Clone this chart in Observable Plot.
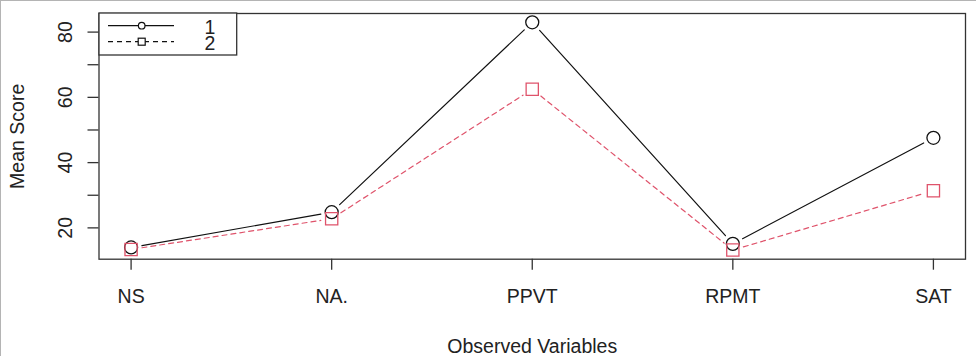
<!DOCTYPE html>
<html>
<head>
<meta charset="utf-8">
<script src="https://cdn.jsdelivr.net/npm/d3@7"></script>
<script src="https://cdn.jsdelivr.net/npm/@observablehq/plot@0.6"></script>
<style>
  html, body { margin: 0; padding: 0; background: #fff; }
  #wrap { position: relative; width: 976px; height: 356px; overflow: hidden; font-family: "Liberation Sans", Arial, sans-serif; }
  #wrap svg { display: block; }
  #edgeTop { position: absolute; left: 0; top: 0; width: 976px; height: 1px; background: #b4b4b4; }
  #edgeLeft { position: absolute; left: 0; top: 0; width: 1px; height: 356px; background: #b4b4b4; }
  #legend { position: absolute; left: 0; top: 0; }
</style>
</head>
<body>
<div id="wrap"></div>
<script>
// ---- data ----
const categories = ["NS", "NA.", "PPVT", "RPMT", "SAT"];
const series1 = [14.0, 24.8, 83.0, 15.1, 47.6];
const series2 = [13.4, 22.8, 62.5, 13.2, 31.4];
const seriesNames = ["1", "2"];
const yTickValues = [20, 30, 40, 50, 60, 70, 80];
const yTickLabels = [20, 40, 60, 80];
const xLabel = "Observed Variables";
const yLabel = "Mean Score";

const red = "#DF536B";
const ink = "#222";
const fontSize = 19.5;

const xIdx = categories.map((c, i) => i + 1);
function segments(vals) {
  const out = [];
  for (let i = 0; i < vals.length - 1; i++) {
    out.push({x1: i + 1, y1: vals[i], x2: i + 2, y2: vals[i + 1]});
  }
  return out;
}
const pts1 = series1.map((v, i) => ({x: i + 1, y: v}));
const pts2 = series2.map((v, i) => ({x: i + 1, y: v}));

const chart = Plot.plot({
  width: 976,
  height: 356,
  marginTop: 13,
  marginRight: 11,
  marginBottom: 97.3,
  marginLeft: 98.5,
  style: {fontFamily: "'Liberation Sans', Arial, sans-serif", background: "#fff", color: ink},
  x: {type: "linear", domain: [0.84, 5.16], axis: null},
  y: {type: "linear", domain: [10.4, 85.7], axis: null},
  marks: [
    // ticks
    Plot.axisX(xIdx, {tickSize: 11, tickFormat: () => "", label: null, stroke: "#333", strokeWidth: 1.3}),
    Plot.axisY(yTickValues, {tickSize: 11, tickFormat: () => "", label: null, stroke: "#333", strokeWidth: 1.3}),
    // tick labels
    Plot.text(categories, {x: (d, i) => i + 1, frameAnchor: "bottom", dy: 43.6, lineAnchor: "bottom", fontSize, fill: ink}),
    Plot.text(yTickLabels, {y: d => d, text: d => String(d), frameAnchor: "left", dx: -27.5, rotate: -90, textAnchor: "middle", lineAnchor: "bottom", fontSize, fill: ink}),
    // axis titles
    Plot.text([xLabel], {frameAnchor: "bottom", dy: 93.5, lineAnchor: "bottom", fontSize, fill: ink}),
    Plot.text([yLabel], {frameAnchor: "left", dx: -75.5, rotate: -90, textAnchor: "middle", lineAnchor: "bottom", fontSize, fill: ink}),
    // series 1
    Plot.arrow(segments(series1), {x1: "x1", y1: "y1", x2: "x2", y2: "y2", inset: 11, headLength: 0, bend: 0, stroke: "#111", strokeWidth: 1.2}),
    Plot.dot(pts1, {x: "x", y: "y", symbol: "circle", r: 6.5, stroke: "#111", fill: "none", strokeWidth: 1.3}),
    // series 2
    Plot.arrow(segments(series2), {x1: "x1", y1: "y1", x2: "x2", y2: "y2", inset: 11, headLength: 0, bend: 0, stroke: red, strokeWidth: 1.2, strokeDasharray: "5,4"}),
    Plot.dot(pts2, {x: "x", y: "y", symbol: "square", r: 6.9, stroke: red, fill: "none", strokeWidth: 1.3}),
    Plot.frame({stroke: "#333", strokeWidth: 1.3})
  ]
});

const wrap = document.getElementById("wrap");
wrap.appendChild(chart);

// ---- legend (overlay) ----
const lg = d3.select(wrap).append("svg").attr("id", "legend").attr("width", 976).attr("height", 356);
const box = {x: 99, y: 13, w: 137.7, h: 42};
lg.append("rect").attr("x", box.x).attr("y", box.y).attr("width", box.w).attr("height", box.h)
  .attr("fill", "#fff").attr("stroke", "#333").attr("stroke-width", 1.3);
const rows = [
  {name: seriesNames[0], y: 25.7, dash: null, sym: "circle"},
  {name: seriesNames[1], y: 41.7, dash: "5,4", sym: "square"}
];
rows.forEach(r => {
  lg.append("line").attr("x1", 108).attr("x2", 174).attr("y1", r.y).attr("y2", r.y)
    .attr("stroke", "#111").attr("stroke-width", 1.2).attr("stroke-dasharray", r.dash);
  if (r.sym === "circle") {
    lg.append("circle").attr("cx", 141.7).attr("cy", r.y).attr("r", 3.3)
      .attr("fill", "#fff").attr("stroke", "#111").attr("stroke-width", 1.2);
  } else {
    lg.append("rect").attr("x", 141.7 - 3.5).attr("y", r.y - 3.5).attr("width", 7).attr("height", 7)
      .attr("fill", "#fff").attr("stroke", "#111").attr("stroke-width", 1.2);
  }
  lg.append("text").attr("x", 210).attr("y", r.y + 8.5).attr("text-anchor", "middle")
    .attr("font-size", 19.5).attr("fill", ink).attr("font-family", "'Liberation Sans', Arial, sans-serif").text(r.name);
});

const et = document.createElement("div"); et.id = "edgeTop"; wrap.appendChild(et);
const el = document.createElement("div"); el.id = "edgeLeft"; wrap.appendChild(el);
</script>
</body>
</html>
